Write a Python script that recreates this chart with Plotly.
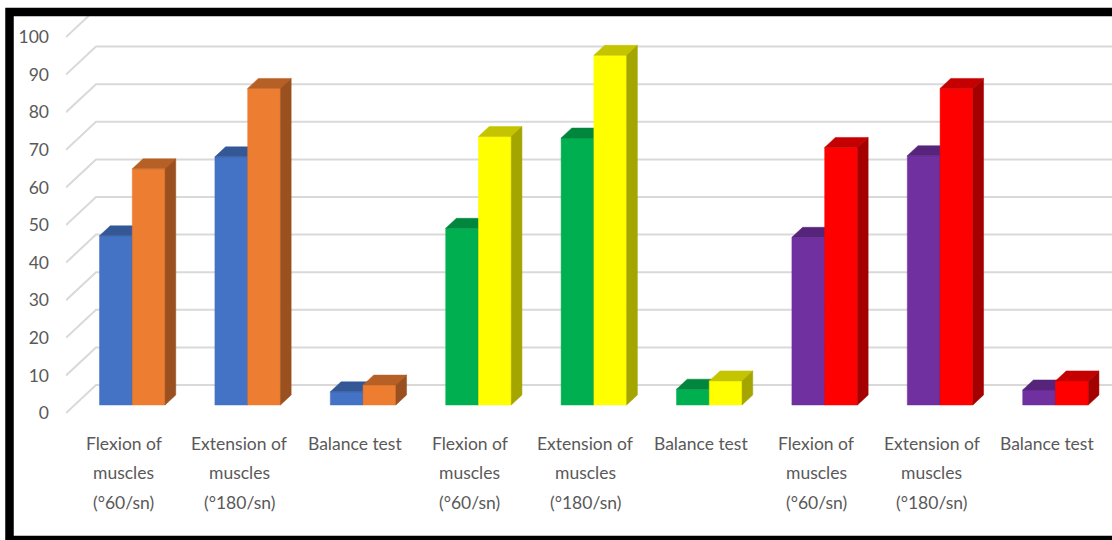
import plotly.graph_objects as go

# ---------------- data ----------------
categories = [
    "Flexion of<br>muscles<br>(°60/sn)",
    "Extension of<br>muscles<br>(°180/sn)",
    "Balance test",
    "Flexion of<br>muscles<br>(°60/sn)",
    "Extension of<br>muscles<br>(°180/sn)",
    "Balance test",
    "Flexion of<br>muscles<br>(°60/sn)",
    "Extension of<br>muscles<br>(°180/sn)",
    "Balance test",
]
first_values = [45, 66, 3.5, 47, 71, 4.2, 44.6, 66.3, 4.0]
second_values = [62.8, 84.2, 5.3, 71.4, 93, 6.4, 68.5, 84.2, 6.4]
first_colors = ["#4472C4", "#4472C4", "#4472C4", "#00B050", "#00B050", "#00B050",
                "#7030A0", "#7030A0", "#7030A0"]
second_colors = ["#ED7D31", "#ED7D31", "#ED7D31", "#FFFF00", "#FFFF00", "#FFFF00",
                 "#FF0000", "#FF0000", "#FF0000"]
y_ticks = list(range(0, 101, 10))

# ---------------- geometry (3D look) ----------------
W_PX, H_PX = 1112, 540
ML, MR, MT, MB = 66, 0, 16, 120
XU = 115.4          # px per category
YU = 3.76           # px per value unit
DX = 30 / XU        # full depth offset (x)
DY = 28 / YU        # full depth offset (y)
F0, F1 = 0.286, 0.643   # bar front / back depth fractions
BW = 0.284          # bar width

plot_w = W_PX - ML - MR
plot_h = H_PX - MT - MB
x_lo = -0.5
x_hi = x_lo + plot_w / XU
y_lo = (413 - (H_PX - MB)) / YU
y_hi = (413 - MT) / YU


def shade(hex_color, k):
    h = hex_color.lstrip("#")
    r, g, b = (int(h[i:i + 2], 16) for i in (0, 2, 4))
    return "#%02x%02x%02x" % (int(r * k), int(g * k), int(b * k))


fig = go.Figure()

# gridlines: side-wall diagonals + back-wall horizontals
gx, gy = [], []
for v in y_ticks:
    gx += [x_lo, x_lo + DX, x_hi + 1, None]
    gy += [v, v + DY, v + DY, None]
fig.add_trace(go.Scatter(x=gx, y=gy, mode="lines",
                         line=dict(color="#d9d9d9", width=2),
                         hoverinfo="skip", showlegend=False))


def poly(xs, ys, color):
    fig.add_trace(go.Scatter(
        x=xs + [xs[0]], y=ys + [ys[0]], mode="lines", fill="toself",
        fillcolor=color, line=dict(color=color, width=0.5),
        hoverinfo="skip", showlegend=False))


def bar3d(x0, x1, v, color):
    b0 = F0 * DY
    b1 = F1 * DY
    ox0, ox1 = F0 * DX, F1 * DX
    # front face
    poly([x0 + ox0, x1 + ox0, x1 + ox0, x0 + ox0],
         [b0, b0, v + b0, v + b0], color)
    # top face
    poly([x0 + ox0, x1 + ox0, x1 + ox1, x0 + ox1],
         [v + b0, v + b0, v + b1, v + b1], shade(color, 0.77))
    # side face
    poly([x1 + ox0, x1 + ox1, x1 + ox1, x1 + ox0],
         [b0, b1, v + b1, v + b0], shade(color, 0.65))


for i in range(len(categories)):
    bar3d(i - BW, i, first_values[i], first_colors[i])
    bar3d(i, i + BW, second_values[i], second_colors[i])

# category labels
font_family = "Lato, sans-serif"
annotations = []
line_px = [443, 473, 502]
for i, lab in enumerate(categories):
    for j, line in enumerate(lab.split("<br>")):
        annotations.append(dict(
            x=i, xref="x", y=(H_PX - MB - line_px[j]) / plot_h, yref="paper",
            text=line, showarrow=False, xanchor="center", yanchor="middle",
            font=dict(family=font_family, size=17.5, color="#595959")))

fig.update_layout(
    width=W_PX, height=H_PX,
    margin=dict(l=ML, r=MR, t=MT, b=MB, pad=0),
    paper_bgcolor="white", plot_bgcolor="white",
    showlegend=False,
    xaxis=dict(range=[x_lo, x_hi], visible=False, fixedrange=True),
    yaxis=dict(range=[y_lo, y_hi], tickvals=y_ticks,
               ticktext=[str(t) for t in y_ticks],
               showgrid=False, zeroline=False, showline=False,
               ticks="", ticklabelstandoff=16,
               tickfont=dict(family=font_family, size=17.5, color="#595959"),
               fixedrange=True),
    annotations=annotations,
    shapes=[dict(type="rect", xref="paper", yref="paper",
                 x0=(9.5 - ML) / plot_w, x1=(1117 - ML) / plot_w,
                 y0=(H_PX - MB - 540) / plot_h, y1=(H_PX - MB - 12) / plot_h,
                 line=dict(color="black", width=8.5), fillcolor="rgba(0,0,0,0)",
                 layer="above")],
)

fig.write_html("out.html")
